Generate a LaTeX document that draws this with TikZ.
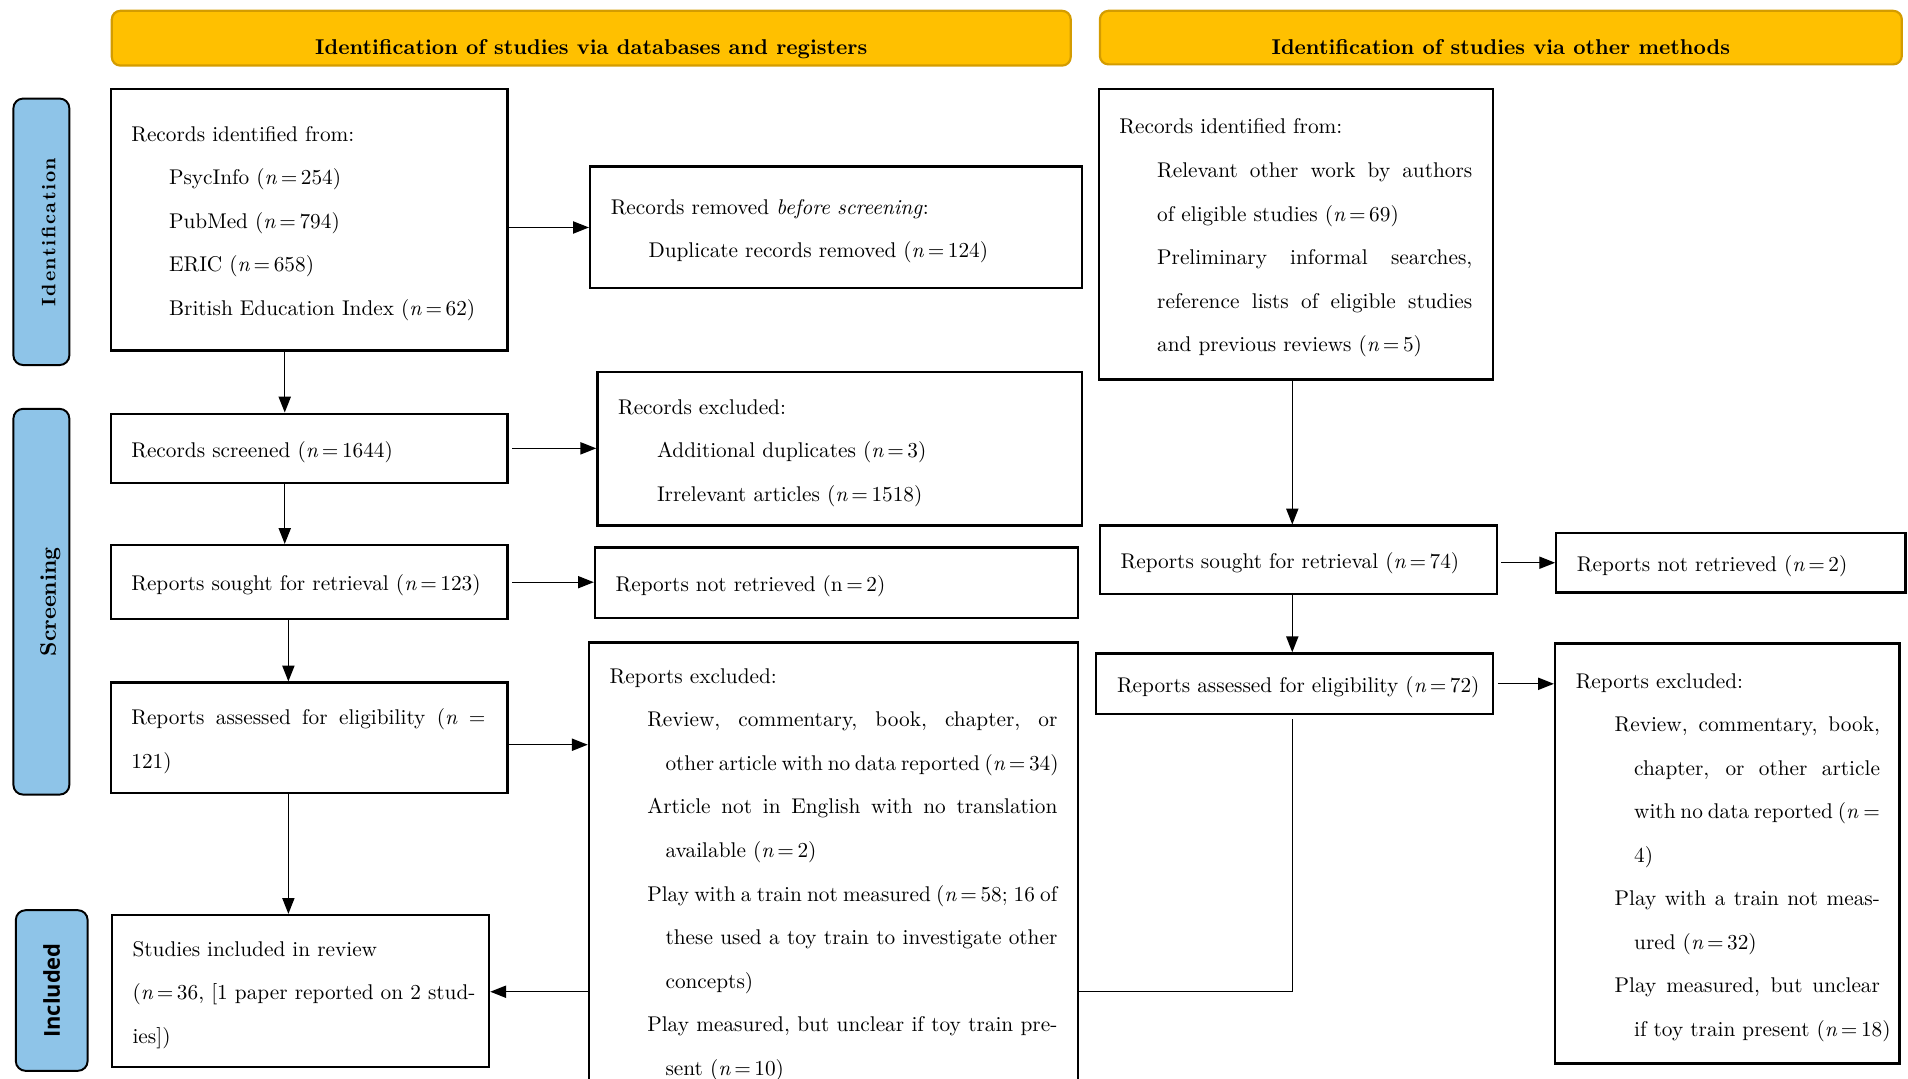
\documentclass[tikz,border=0pt]{standalone}
\usepackage{fontspec}
\setmainfont{lmroman10}[Extension=.otf, UprightFont=*-regular, BoldFont=*-bold, ItalicFont=*-italic, BoldItalicFont=*-bolditalic]
\newfontfamily\incfont{Open Sans}
\usetikzlibrary{arrows.meta,backgrounds}
\definecolor{hdrfill}{RGB}{255,192,0}
\definecolor{hdrline}{RGB}{212,156,0}
\definecolor{sidefill}{RGB}{142,196,232}
\setlength{\parindent}{0pt}
\newcommand{\bodyfs}{\fontsize{17.5pt}{35.8pt}\selectfont}
\newcommand{\nn}{\textit{n}\,=\,}
\newcommand{\tline}[2]{\hspace*{#1pt}\mbox{\strut #2}}
\newcommand{\jline}[3]{\hspace*{#1pt}\makebox[#2pt][s]{\spaceskip=0pt\xspaceskip=0pt\strut #3}}
\begin{document}
\begin{tikzpicture}[x=1pt,y=-1pt,
  box/.style={draw, line width=1.9pt, fill=white, anchor=north west, inner xsep=17pt, inner ysep=0pt, align=left, font=\bodyfs},
  hdr/.style={draw=hdrline, fill=hdrfill, line width=1.8pt, rounded corners=7pt, anchor=north west, inner sep=0pt, text height=30pt, text depth=3pt, font=\fontsize{17.6pt}{20pt}\selectfont\bfseries},
  side/.style={draw=black, fill=sidefill, line width=1.6pt, rounded corners=8pt, rotate=90, inner sep=0pt},
  arr/.style={line width=1.1pt, -{Triangle[length=13pt,width=10pt]}}]
\useasboundingbox (0,0) rectangle (1568,886);
\clip (0,0) rectangle (1568,886);

% headers
\node[hdr, minimum width=788pt, minimum height=45pt] (h1) at (91,8) {Identification of studies via databases and registers};
\node[hdr, minimum width=659pt, minimum height=44pt] (h2) at (903,8) {Identification of studies via other methods};

% side labels
\node[side, minimum width=219pt, minimum height=46pt, text height=25pt, text depth=2pt, font=\bfseries\fontsize{16pt}{18pt}\selectfont\addfontfeatures{LetterSpace=8}] (s1) at (34,190.5) {Identification};
\node[side, minimum width=317pt, minimum height=46pt, text height=26pt, text depth=2pt, font=\bfseries\fontsize{18.5pt}{20pt}\selectfont] (s2) at (34,494.5) {Screening};
\node[side, minimum width=132pt, minimum height=59pt, font=\incfont\bfseries\fontsize{18pt}{20pt}\selectfont] (s3) at (42.5,814) {Included};

% left column
\node[box, text width=292pt, minimum height=215pt] (b1) at (90,72) {%
\tline{0}{Records identified from:}\\
\tline{31}{PsycInfo (\nn 254)}\\
\tline{31}{PubMed (\nn 794)}\\
\tline{31}{ERIC (\nn 658)}\\
\tline{31}{British Education Index (\nn 62)}};

\node[box, text width=370pt, minimum height=100pt] (b2) at (484,136) {%
\tline{0}{Records removed \textit{before screening}:}\\
\tline{31}{Duplicate records removed (\nn 124)}};

\node[box, text width=292pt, minimum height=57pt] (b3) at (90,339) {%
\tline{0}{Records screened (\nn 1644)}};

\node[box, text width=364pt, minimum height=126pt] (b4) at (490,305) {%
\tline{0}{Records excluded:}\\
\tline{32}{Additional duplicates (\nn 3)}\\
\tline{32}{Irrelevant articles (\nn 1518)}};

\node[box, text width=292pt, minimum height=61pt] (b5) at (90,447) {%
\tline{0}{Reports sought for retrieval (\nn 123)}};

\node[box, text width=363pt, minimum height=58pt] (b6) at (488,449) {%
\tline{0}{Reports not retrieved (n\,=\,2)}};

\node[box, text width=292pt, minimum height=91pt] (b7) at (90,560) {%
\jline{0}{291}{Reports assessed for eligibility (\textit{n} =}\\
\tline{0}{121)}};

\node[box, text width=368pt, minimum height=375pt] (b8) at (483,527) {%
\tline{0}{Reports excluded:}\\
\jline{31}{337}{Review, commentary, book, chapter, or}\\
\jline{46}{322}{other article with no data reported (\nn 34)}\\
\jline{31}{337}{Article not in English with no translation}\\
\tline{46}{available (\nn 2)}\\
\jline{31}{337}{Play with a train not measured (\nn 58; 16 of}\\
\jline{46}{322}{these used a toy train to investigate other}\\
\tline{46}{concepts)}\\
\jline{31}{337}{Play measured, but unclear if toy train pre-}\\
\tline{46}{sent (\nn 10)}};

\node[box, text width=276pt, minimum height=125pt] (b9) at (91,751) {%
\tline{0}{Studies included in review}\\
\tline{0}{(\nn 36, [1 paper reported on 2 stud-}\\
\tline{0}{ies])}};

% right column
\node[box, text width=290pt, minimum height=239pt] (r1) at (902,72) {%
\tline{0}{Records identified from:}\\
\jline{31}{259}{Relevant other work by authors}\\
\tline{31}{of eligible studies (\nn 69)}\\
\jline{31}{259}{Preliminary informal searches,}\\
\jline{31}{259}{reference lists of eligible studies}\\
\tline{31}{and previous reviews (\nn 5)}};

\node[box, text width=292pt, minimum height=56pt] (r2) at (903,431) {%
\tline{0}{Reports sought for retrieval (\nn 74)}};

\node[box, text width=253pt, minimum height=49pt] (r3) at (1278,437) {%
\tline{0}{Reports not retrieved (\nn 2)}};

\node[box, text width=292pt, minimum height=50pt] (r4) at (900,536) {%
\tline{0}{Reports assessed for eligibility (\nn 72)}};

\node[box, text width=249pt, minimum height=345pt] (r5) at (1277,528) {%
\tline{0}{Reports excluded:}\\
\jline{32}{218}{Review, commentary, book,}\\
\jline{48}{202}{chapter, or other article}\\
\jline{48}{202}{with no data reported (\textit{n} =}\\
\tline{48}{4)}\\
\jline{32}{218}{Play with a train not meas-}\\
\tline{48}{ured (\nn 32)}\\
\jline{32}{218}{Play measured, but unclear}\\
\tline{48}{if toy train present (\nn 18)}};

% connector helpers
\coordinate (xa) at (234,0);
\coordinate (xb) at (237,0);
\coordinate (xr) at (1062,0);
\coordinate (yc) at (0,612);
\coordinate (yd) at (0,815);

\begin{scope}[on background layer]
\draw[arr] (b1.east |- b2.west) -- (b2.west);
\draw[arr] (b1.south -| xa) -- (b3.north -| xa);
\draw[arr, shorten <=3pt] (b3.east) -- (b4.west |- b3.east);
\draw[arr] (b3.south -| xa) -- (b5.north -| xa);
\draw[arr, shorten <=3pt] (b5.east) -- (b6.west |- b5.east);
\draw[arr] (b5.south -| xb) -- (b7.north -| xb);
\draw[arr] (b7.east |- yc) -- (b8.west |- yc);
\draw[arr] (b7.south -| xb) -- (b9.north -| xb);
\draw[arr] (r1.south -| xr) -- (r2.north -| xr);
\draw[arr, shorten <=3pt] (r2.east |- r3.west) -- (r3.west);
\draw[arr] (r2.south -| xr) -- (r4.north -| xr);
\draw[arr, shorten <=3pt] (r4.east) -- (r5.west |- r4.east);
\draw[arr, shorten <=3pt] (r4.south -| xr) -- (xr |- yd) -- (b9.east |- yd);
\end{scope}
\end{tikzpicture}
\end{document}
